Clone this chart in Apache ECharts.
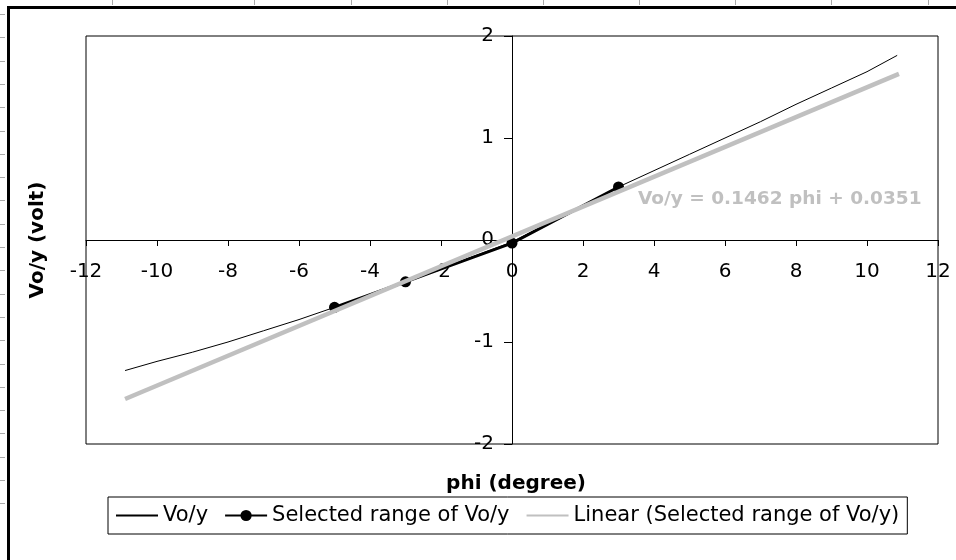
<!DOCTYPE html>
<html><head><meta charset="utf-8">
<script src="https://cdn.jsdelivr.net/npm/echarts@6/dist/echarts.min.js"></script>
<style>html,body{margin:0;padding:0;background:#fff}#c{width:956px;height:560px}</style>
</head><body><div id="c"></div>
<script>
// ---- data ----
const phi = [-10.9,-10,-9,-8,-7,-6,-5,-4,-3,-2,-1,0,1,2,3,4,5,6,7,8,9,10,10.85];
const voy = [-1.28,-1.19,-1.10,-1.00,-0.89,-0.78,-0.66,-0.54,-0.41,-0.28,-0.15,-0.02,0.16,0.34,0.52,0.68,0.84,1.00,1.16,1.33,1.49,1.65,1.81];
const selPhi = [-5,-3,0,3];
const selVoy = [-0.66,-0.41,-0.03,0.52];
const trendSlope = 0.1462;
const trendIntercept = 0.0351;
const trendPhi = [-10.9, 10.9];
const xTicks = {min:-12, max:12, step:2};
const yTicks = {min:-2, max:2, step:1};
const seriesNames = ['Vo/y','Selected range of Vo/y','Linear (Selected range of Vo/y)'];
const equationText = 'Vo/y = 0.1462 phi + 0.0351';
const xTitle = 'phi (degree)';
const yTitle = 'Vo/y (volt)';

const FONT = '"DejaVu Sans", Verdana, sans-serif';
const chart = echarts.init(document.getElementById('c'), null, {renderer:'canvas'});

const G = {left:86, top:36, right:18, bottom:116};
const plotBottom = 560 - G.bottom;

const topRuler = [112,254,351,447,543,639,735,831,928];
const leftRuler = [];
for (let i=0;i<22;i++) leftRuler.push(14+i*23.3);
const graphics = [
  {type:'line', shape:{x1:7,y1:7.5,x2:956,y2:7.5}, style:{stroke:'#000',lineWidth:3}, z:10},
  {type:'line', shape:{x1:8.5,y1:6,x2:8.5,y2:560}, style:{stroke:'#000',lineWidth:3}, z:10}
];
topRuler.forEach(x=>graphics.push({type:'line', shape:{x1:x+0.5,y1:0,x2:x+0.5,y2:5}, style:{stroke:'#aaa',lineWidth:1}}));
leftRuler.forEach(y=>graphics.push({type:'line', shape:{x1:0,y1:Math.round(y)+0.5,x2:5,y2:Math.round(y)+0.5}, style:{stroke:'#aaa',lineWidth:1}}));
graphics.push({type:'text', left:638, top:190, style:{text:equationText, fill:'#c0c0c0', font:'bold 18.5px '+FONT}, z:20});
graphics.push({type:'text', x:38, y:240, rotation:Math.PI/2, style:{text:yTitle, fill:'#000', font:'bold 20px '+FONT, align:'center', verticalAlign:'middle'}});

chart.setOption({
  backgroundColor:'#ffffff',
  animation:false,
  grid:{left:G.left, top:G.top, right:G.right, bottom:G.bottom, show:true, borderColor:'#000', borderWidth:1, backgroundColor:'transparent'},
  title:[
    {text:xTitle, left:511, top:469, textAlign:'center', textStyle:{fontFamily:FONT, fontSize:20, fontWeight:'bold', color:'#000'}}
  ],
  graphic: graphics,
  legend:{
    left:108, top:497, orient:'horizontal',
    borderColor:'#000', borderWidth:1, padding:[8,8,8,7],
    itemWidth:42, itemHeight:14, itemGap:16,
    textStyle:{fontFamily:FONT, fontSize:21, color:'#000'},
    data:[
      {name:seriesNames[0], itemStyle:{opacity:0}},
      {name:seriesNames[1]},
      {name:seriesNames[2], itemStyle:{opacity:0}}
    ]
  },
  xAxis:{
    type:'value', min:xTicks.min, max:xTicks.max, interval:xTicks.step,
    axisLine:{onZero:true, lineStyle:{color:'#000', width:1}},
    axisTick:{show:true, length:6, lineStyle:{color:'#000'}},
    axisLabel:{fontFamily:FONT, fontSize:20, color:'#000', margin:262-plotBottom, showMinLabel:true, showMaxLabel:true},
    splitLine:{show:false}
  },
  yAxis:{
    type:'value', min:yTicks.min, max:yTicks.max, interval:yTicks.step,
    axisLine:{onZero:true, lineStyle:{color:'#000', width:1}},
    axisTick:{show:true, length:8, lineStyle:{color:'#000'}},
    axisLabel:{fontFamily:FONT, fontSize:20, color:'#000', margin:G.left-494, showMinLabel:true, showMaxLabel:true},
    splitLine:{show:false}
  },
  series:[
    {name:seriesNames[0], type:'line', data:phi.map((x,i)=>[x,voy[i]]), showSymbol:false, symbol:'none',
     lineStyle:{color:'#000', width:1}, itemStyle:{color:'#000'}, z:2},
    {name:seriesNames[1], type:'line', data:selPhi.map((x,i)=>[x,selVoy[i]]), symbol:'circle', symbolSize:11,
     lineStyle:{color:'#000', width:3}, itemStyle:{color:'#000'}, z:3},
    {name:seriesNames[2], type:'line', data:trendPhi.map(x=>[x, trendSlope*x+trendIntercept]), symbol:'none',
     lineStyle:{color:'#c0c0c0', width:4.5}, itemStyle:{color:'#c0c0c0'}, z:4}
  ]
});
</script></body></html>
